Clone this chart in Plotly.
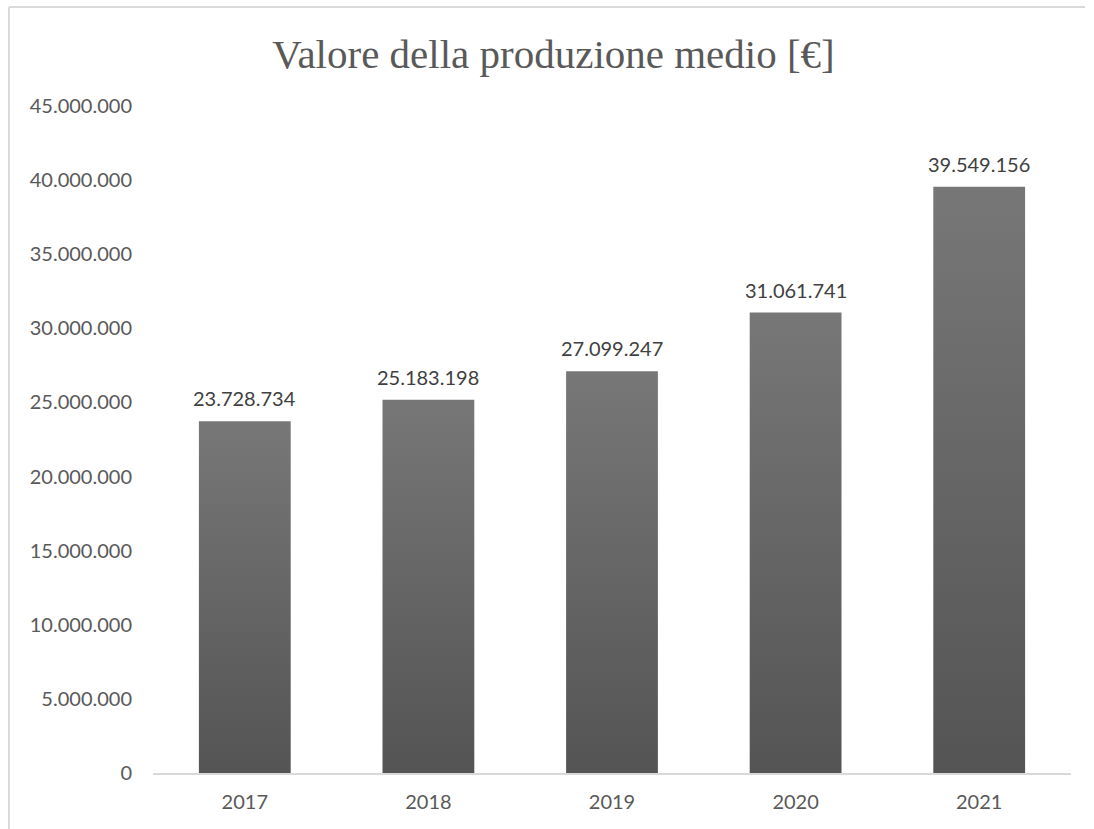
import plotly.graph_objects as go

# Average production value per year (euro)
years = ["2017", "2018", "2019", "2020", "2021"]
values = [23728734, 25183198, 27099247, 31061741, 39549156]

title_text = "Valore della produzione medio [€]"
y_ticks = [0, 5000000, 10000000, 15000000, 20000000, 25000000,
           30000000, 35000000, 40000000, 45000000]

BAR_HALF = 0.25          # half bar width in category units
FONT_UI = "Lato"
TEXT_GREY = "#595959"
AXIS_GREY = "#d9d9d9"

W, H = 1094, 829
ML, MR, MT, MB = 153, 23, 106, 56
PW, PH = W - ML - MR, H - MT - MB

fig = go.Figure()

# Each bar is a filled rectangle with its own vertical gradient
for i, (yr, v) in enumerate(zip(years, values)):
    fig.add_trace(go.Scatter(
        x=[i - BAR_HALF, i - BAR_HALF, i + BAR_HALF, i + BAR_HALF, i - BAR_HALF],
        y=[0, v, v, 0, 0],
        mode="lines",
        line=dict(width=0, color="rgba(0,0,0,0)"),
        fill="toself",
        fillgradient=dict(type="vertical",
                          colorscale=[[0, "#545454"], [1, "#777777"]]),
        hoverinfo="skip",
        showlegend=False,
    ))

# Value labels above the bars
annotations = [
    dict(x=i, y=v, xref="x", yref="y",
         text=f"{v:,}".replace(",", "."),
         showarrow=False, xanchor="center", yanchor="bottom", yshift=9,
         font=dict(family=FONT_UI, size=20, color="#404040"))
    for i, v in enumerate(values)
]

frame_x = (9 - ML) / PW
frame_top = (H - 7 - MB) / PH

fig.update_layout(
    width=W,
    height=H,
    paper_bgcolor="white",
    plot_bgcolor="white",
    separators=",.",
    margin=dict(l=ML, r=MR, t=MT, b=MB),
    title=dict(
        text=title_text,
        x=0.506, xref="container", xanchor="center",
        y=1 - 54 / H, yref="container", yanchor="middle",
        font=dict(family="Liberation Serif", size=41, color=TEXT_GREY),
    ),
    annotations=annotations,
    xaxis=dict(
        range=[-0.5, len(years) - 0.5],
        tickmode="array",
        tickvals=list(range(len(years))),
        ticktext=years,
        showgrid=False,
        zeroline=False,
        showline=True,
        linecolor=AXIS_GREY,
        linewidth=2,
        ticks="",
        ticklabelstandoff=10,
        tickfont=dict(family=FONT_UI, size=20, color=TEXT_GREY),
        fixedrange=True,
    ),
    yaxis=dict(
        range=[0, 45000000],
        tickmode="array",
        tickvals=y_ticks,
        tickformat=",d",
        showgrid=False,
        zeroline=False,
        showline=False,
        ticks="",
        ticklabelstandoff=20,
        tickfont=dict(family=FONT_UI, size=20, color=TEXT_GREY),
        fixedrange=True,
    ),
    shapes=[
        # chart frame (left and top edges)
        dict(type="line", xref="paper", yref="paper",
             x0=frame_x, x1=frame_x,
             y0=-MB / PH, y1=frame_top,
             line=dict(color=AXIS_GREY, width=2)),
        dict(type="line", xref="paper", yref="paper",
             x0=frame_x, x1=1 + 14 / PW,
             y0=frame_top, y1=frame_top,
             line=dict(color=AXIS_GREY, width=2)),
    ],
)

fig.write_html("out.html")
